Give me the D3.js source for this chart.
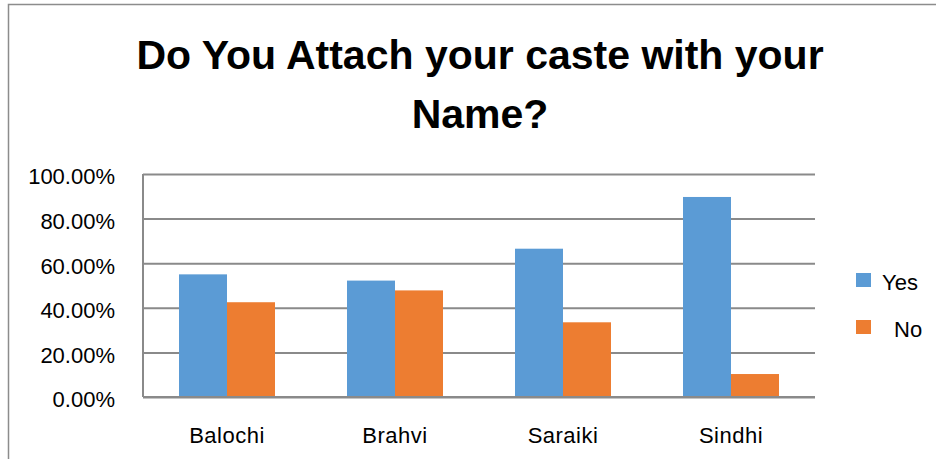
<!DOCTYPE html>
<html>
<head>
<meta charset="utf-8">
<script src="https://cdn.jsdelivr.net/npm/d3@7"></script>
<style>
  html, body { margin: 0; padding: 0; background: #fff; }
  svg { display: block; }
</style>
</head>
<body>
<svg id="chart"></svg>
<script>
// data
const categories = ['Balochi', 'Brahvi', 'Saraiki', 'Sindhi'];
const seriesNames = ['Yes', 'No'];
const yesValues = [0.55, 0.522, 0.665, 0.897];
const noValues = [0.425, 0.478, 0.335, 0.103];
const yTicks = [0, 0.2, 0.4, 0.6, 0.8, 1.0];
const titleLines = ['Do You Attach your caste with your', 'Name?'];

const width = 936;
const height = 459;
const margin = { top: 174, right: 121, bottom: 62, left: 143 };
const colors = ['#5B9BD5', '#ED7D31'];
const font = '"Liberation Sans", Arial, sans-serif';

const svg = d3.select('#chart')
  .attr('width', width)
  .attr('height', height)
  .attr('viewBox', `0 0 ${width} ${height}`);

// outer frame (runs off the right and bottom edges)
svg.append('rect')
  .attr('x', 8.5)
  .attr('y', 4.5)
  .attr('width', width + 20)
  .attr('height', height + 20)
  .attr('fill', 'none')
  .attr('stroke', '#8c8c8c')
  .attr('stroke-width', 1.5);

// title
svg.append('g')
  .selectAll('text')
  .data(titleLines)
  .enter()
  .append('text')
  .attr('x', 480)
  .attr('y', (d, i) => 69 + i * 59)
  .attr('text-anchor', 'middle')
  .attr('font-family', font)
  .attr('font-weight', 'bold')
  .attr('font-size', 41)
  .attr('fill', '#000')
  .text(d => d);

const innerW = width - margin.left - margin.right;
const innerH = height - margin.top - margin.bottom;

const x0 = d3.scaleBand()
  .domain(categories)
  .range([0, innerW])
  .paddingInner(0.4286)
  .paddingOuter(0.2143);

const x1 = d3.scaleBand()
  .domain(seriesNames)
  .range([0, x0.bandwidth()]);

const y = d3.scaleLinear()
  .domain([0, 1])
  .range([innerH, 0]);

const g = svg.append('g')
  .attr('transform', `translate(${margin.left},${margin.top})`);

// gridlines + y labels
const yAxis = d3.axisLeft(y)
  .tickValues(yTicks)
  .tickSize(-innerW)
  .tickPadding(28)
  .tickFormat(d3.format('.2%'));

const yg = g.append('g').call(yAxis);
yg.select('.domain').remove();
yg.selectAll('.tick line')
  .attr('stroke', '#8a8a8a')
  .attr('stroke-width', 2);
yg.selectAll('.tick text')
  .attr('font-family', font)
  .attr('font-size', 22)
  .attr('fill', '#000')
  .attr('dy', '0.45em');

// left axis line
g.append('line')
  .attr('x1', 0).attr('x2', 0)
  .attr('y1', 0).attr('y2', innerH)
  .attr('stroke', '#8a8a8a')
  .attr('stroke-width', 2);

// bars
const rows = categories.map((c, i) => ({ cat: c, values: [yesValues[i], noValues[i]] }));

g.append('g')
  .selectAll('g')
  .data(rows)
  .enter()
  .append('g')
  .attr('transform', d => `translate(${x0(d.cat)},0)`)
  .selectAll('rect')
  .data(d => d.values.map((v, j) => ({ key: seriesNames[j], value: v, j })))
  .enter()
  .append('rect')
  .attr('x', d => x1(d.key))
  .attr('y', d => y(d.value))
  .attr('width', x1.bandwidth())
  .attr('height', d => innerH - y(d.value))
  .attr('fill', d => colors[d.j]);

// baseline over the bars
g.append('line')
  .attr('x1', 0).attr('x2', innerW)
  .attr('y1', innerH).attr('y2', innerH)
  .attr('stroke', '#8a8a8a')
  .attr('stroke-width', 2);

// x labels
const xAxis = d3.axisBottom(x0).tickSize(0).tickPadding(0);
const xg = g.append('g')
  .attr('transform', `translate(0,${innerH})`)
  .call(xAxis);
xg.select('.domain').remove();
xg.selectAll('.tick text')
  .attr('font-family', font)
  .attr('font-size', 22)
  .attr('fill', '#000')
  .attr('dy', null)
  .attr('y', 46)
  .attr('letter-spacing', 0.5);

// legend
const legend = svg.append('g')
  .attr('transform', 'translate(856,273)')
  .selectAll('g')
  .data(seriesNames)
  .enter()
  .append('g')
  .attr('transform', (d, i) => `translate(0,${i * 47})`);

legend.append('rect')
  .attr('width', 15)
  .attr('height', 14)
  .attr('fill', (d, i) => colors[i]);

legend.append('text')
  .attr('x', (d, i) => i === 0 ? 26 : 38)
  .attr('y', 17)
  .attr('font-family', font)
  .attr('font-size', 22)
  .attr('fill', '#000')
  .text(d => d);
</script>
</body>
</html>
